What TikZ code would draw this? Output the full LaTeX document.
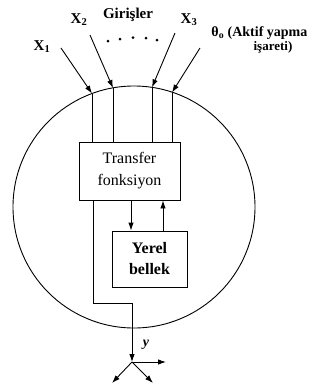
\documentclass[tikz,border=0pt]{standalone}
\usepackage{fontspec}
\setmainfont{Liberation Serif}
\usetikzlibrary{arrows.meta}
\begin{document}
\begin{tikzpicture}[x=1pt,y=-1pt,
  line width=0.9pt,
  arr/.style={-{Latex[length=8pt,width=5.5pt]}},
  boxnode/.style={draw,inner sep=0pt,align=center,font=\fontsize{16}{22}\selectfont},
  lab/.style={inner sep=0pt,font=\fontsize{15}{16}\selectfont\bfseries},
  dotm/.style={fill,circle,inner sep=0pt,minimum size=3pt}]
\useasboundingbox (0,0) rectangle (334,389);
% neuron body
\node[draw,circle,minimum size=242pt,inner sep=0pt] (body) at (134,207) {};
% boxes
\node[boxnode,minimum width=101pt,minimum height=58pt] (tf) at (129.5,171) {Transfer\\fonksiyon};
\node[boxnode,minimum width=75pt,minimum height=56pt,font=\fontsize{16}{21}\selectfont\bfseries] (yb) at (149.5,259) {Yerel\\bellek};
% labels
\node[lab] (lx1) at (42,47) {X\textsubscript{1}};
\node[lab] (lx2) at (79,20) {X\textsubscript{2}};
\node[lab] (lgir) at (128,15) {Girişler};
\node[lab] (lx3) at (189,20) {X\textsubscript{3}};
\node[lab,anchor=west,font=\fontsize{14}{15}\selectfont\bfseries] (lth) at (211,33) {θ\textsubscript{o} (Aktif yapma};
\node[lab,font=\fontsize{13}{14}\selectfont\bfseries] (lis) at (273,47) {işareti)};
% dots
\node[dotm] (d1) at (108,41) {};
\node[dotm] (d2) at (120,39) {};
\node[dotm] (d3) at (133,37.5) {};
\node[dotm] (d4) at (146,38) {};
\node[dotm] (d5) at (157,40) {};
% input arrow starts and circle points
\coordinate (s1) at (61,48);
\coordinate (s2) at (90,35);
\coordinate (s3) at (175,33);
\coordinate (s4) at (200,48);
\coordinate (i1) at (92,93.5);
\coordinate (i2) at (113,88);
\coordinate (i3) at (152,87.4);
\coordinate (i4) at (172,92.5);
\foreach \k in {1,2,3,4}{
  \draw[arr] (s\k) -- (i\k);
  \draw (i\k) -- (i\k |- tf.north);
}
% between boxes
\draw[arr] (131,200) coordinate (a1) -- (a1 |- yb.north);
\draw[arr] (163,231) coordinate (a2) -- (a2 |- tf.south);
% output
\coordinate (o1) at (93,200);
\coordinate (o2) at (93,303);
\coordinate (o3) at (132,303);
\coordinate (j) at (132,362);
\draw (o1) -- (o2) -- (o3) -- (o3 |- body.south);
\draw[arr] (o3 |- body.south) -- (j);
\node[lab,font=\fontsize{14}{15}\selectfont\bfseries\itshape] (ly) at (146,345) {y};
\coordinate (e1) at (166,362);
\coordinate (e2) at (112,383);
\coordinate (e3) at (153,383);
\draw[arr] (j) -- (e1);
\draw[arr] (j) -- (e2);
\draw[arr] (j) -- (e3);
\end{tikzpicture}
\end{document}
